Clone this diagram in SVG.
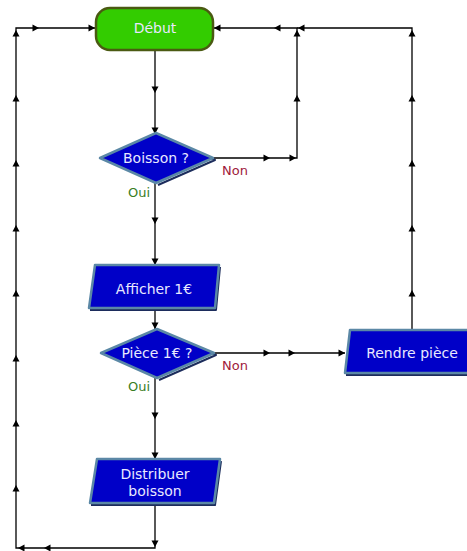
<svg xmlns="http://www.w3.org/2000/svg" xmlns:xlink="http://www.w3.org/1999/xlink" width="467" height="551" viewBox="0 0 467 551">
<defs>
<path id="ah" d="M0,0 L-6.5,-3.5 L-6.5,3.5 Z" fill="#000"/>
</defs>
<style>
.ln{fill:none;stroke:#000;stroke-width:1.3}
.box{fill:#0000c8;stroke:#5b88a6;stroke-width:2.5;stroke-linejoin:round}
.sh{fill:none;stroke:#1c2c5c;stroke-width:2;stroke-linejoin:round}
.t{font-family:"DejaVu Sans",Verdana,sans-serif;font-size:14px;fill:#e8e8ff;text-anchor:middle}
.oui{font-family:"DejaVu Sans",Verdana,sans-serif;font-size:13px;fill:#3a7d1f}
.non{font-family:"DejaVu Sans",Verdana,sans-serif;font-size:13px;fill:#a0203a}
</style>
<rect width="467" height="551" fill="#fff"/>
<g id="connectors">
<path class="ln" d="M155,50 V133"/>
<path class="ln" d="M155,183 V265"/>
<path class="ln" d="M155,308 V329"/>
<path class="ln" d="M155,378 V459"/>
<path class="ln" d="M155,503 V548 H16 V28 H95"/>
<path class="ln" d="M214,158 H297 V28 H213"/>
<path class="ln" d="M215,353 H345"/>
<path class="ln" d="M412,330 V28 H297"/>
<use xlink:href="#ah" transform="translate(155,93) rotate(90)"/>
<use xlink:href="#ah" transform="translate(155,134) rotate(90)"/>
<use xlink:href="#ah" transform="translate(155,224) rotate(90)"/>
<use xlink:href="#ah" transform="translate(155,265) rotate(90)"/>
<use xlink:href="#ah" transform="translate(155,329) rotate(90)"/>
<use xlink:href="#ah" transform="translate(155,419) rotate(90)"/>
<use xlink:href="#ah" transform="translate(155,459) rotate(90)"/>
<use xlink:href="#ah" transform="translate(155,547) rotate(90)"/>
<use xlink:href="#ah" transform="translate(44,548) rotate(180)"/>
<use xlink:href="#ah" transform="translate(18,548) rotate(180)"/>
<use xlink:href="#ah" transform="translate(16,485) rotate(-90)"/>
<use xlink:href="#ah" transform="translate(16,420) rotate(-90)"/>
<use xlink:href="#ah" transform="translate(16,355) rotate(-90)"/>
<use xlink:href="#ah" transform="translate(16,290) rotate(-90)"/>
<use xlink:href="#ah" transform="translate(16,225) rotate(-90)"/>
<use xlink:href="#ah" transform="translate(16,160) rotate(-90)"/>
<use xlink:href="#ah" transform="translate(16,95) rotate(-90)"/>
<use xlink:href="#ah" transform="translate(16,30) rotate(-90)"/>
<use xlink:href="#ah" transform="translate(39,28)"/>
<use xlink:href="#ah" transform="translate(95,28)"/>
<use xlink:href="#ah" transform="translate(270,158)"/>
<use xlink:href="#ah" transform="translate(296,158)"/>
<use xlink:href="#ah" transform="translate(297,95) rotate(-90)"/>
<use xlink:href="#ah" transform="translate(297,30) rotate(-90)"/>
<use xlink:href="#ah" transform="translate(274,28) rotate(180)"/>
<use xlink:href="#ah" transform="translate(214,28) rotate(180)"/>
<use xlink:href="#ah" transform="translate(298,28) rotate(180)"/>
<use xlink:href="#ah" transform="translate(270,353)"/>
<use xlink:href="#ah" transform="translate(295,353)"/>
<use xlink:href="#ah" transform="translate(345,353)"/>
<use xlink:href="#ah" transform="translate(412,290) rotate(-90)"/>
<use xlink:href="#ah" transform="translate(412,225) rotate(-90)"/>
<use xlink:href="#ah" transform="translate(412,160) rotate(-90)"/>
<use xlink:href="#ah" transform="translate(412,95) rotate(-90)"/>
<use xlink:href="#ah" transform="translate(412,30) rotate(-90)"/>
</g>
<g id="debut">
<rect x="96" y="8" width="117" height="42" rx="14" fill="#33cc00" stroke="#4a5a12" stroke-width="2.5"/>
<text class="t" x="155" y="33">Début</text>
</g>
<g id="boisson">
<path class="sh" d="M158,135 L215,160 L158,185"/>
<path class="box" d="M156,133 L213,158 L156,183 L100,158 Z"/>
<text class="t" x="156" y="163">Boisson ?</text>
<text class="oui" x="128" y="197">Oui</text>
<text class="non" x="222" y="175">Non</text>
</g>
<g id="afficher">
<path class="sh" d="M220,267 L216,310 L90,310"/>
<path class="box" d="M95,265 L219,265 L215,308 L89,308 Z"/>
<text class="t" x="154" y="294">Afficher 1€</text>
</g>
<g id="piece">
<path class="sh" d="M159,331 L216,355 L159,380"/>
<path class="box" d="M157,329 L214,353 L157,378 L101,353 Z"/>
<text class="t" x="157" y="358">Pièce 1€ ?</text>
<text class="oui" x="128" y="391">Oui</text>
<text class="non" x="222" y="370">Non</text>
</g>
<g id="rendre">
<path class="sh" d="M476,375 L346,375"/>
<path class="box" d="M350,330 L482,330 L478,373 L345,373 Z"/>
<text class="t" x="412" y="358">Rendre pièce</text>
</g>
<g id="distribuer">
<path class="sh" d="M221,461 L215,505 L91,505"/>
<path class="box" d="M97,459 L220,459 L214,503 L90,503 Z"/>
<text class="t" x="155" y="479">Distribuer</text>
<text class="t" x="155" y="496">boisson</text>
</g>
</svg>
